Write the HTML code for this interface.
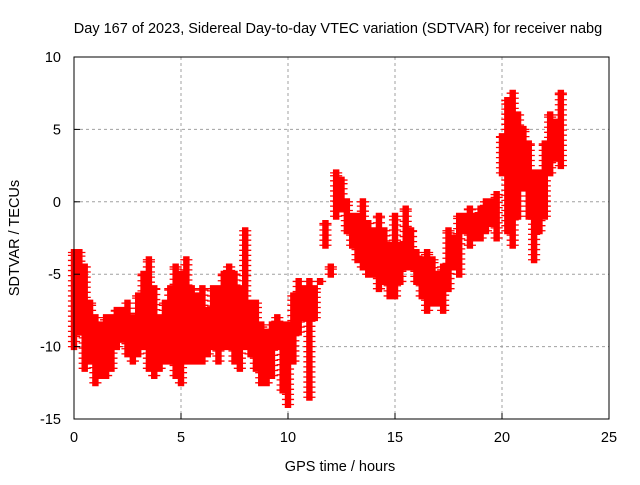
<!DOCTYPE html>
<html><head><meta charset="utf-8"><style>
html,body{margin:0;padding:0;background:#fff;}
svg text{font-family:"Liberation Sans",sans-serif;font-size:14.5px;fill:#000;}
</style></head><body>
<svg id="chart" width="640" height="480" xmlns="http://www.w3.org/2000/svg">
<text x="338" y="33" text-anchor="middle">Day 167 of 2023, Sidereal Day-to-day VTEC variation (SDTVAR) for receiver nabg</text>
<text x="340" y="471" text-anchor="middle">GPS time / hours</text>
<text transform="translate(19,238) rotate(-90)" text-anchor="middle">SDTVAR / TECUs</text>
<g id="grid"></g><g id="marks"></g><g id="axes"></g>
</svg>
<script>
const times=[0,0.25,0.5,0.75,1,1.25,1.5,1.75,2,2.25,2.5,2.75,3,3.25,3.5,3.75,4,4.25,4.5,4.75,5,5.25,5.5,5.75,6,6.25,6.5,6.75,7,7.25,7.5,7.75,8,8.25,8.5,8.75,9,9.25,9.5,9.75,10,10.25,10.5,10.75,11,11.25,11.5,11.75,12,12.25,12.5,12.75,13,13.25,13.5,13.75,14,14.25,14.5,14.75,15,15.25,15.5,15.75,16,16.25,16.5,16.75,17,17.25,17.5,17.75,18,18.25,18.5,18.75,19,19.25,19.5,19.75,20,20.25,20.5,20.75,21,21.25,21.5,21.75,22,22.25,22.5,22.75];
const lowVals=[-10,-9,-11.5,-11,-12.5,-12,-12,-11.5,-10,-9.5,-10.5,-11,-10.5,-10,-11.5,-12,-11.5,-11,-11,-12,-12.5,-11,-11,-11,-11,-10.5,-10,-11,-10,-10,-11,-11.5,-10,-10.5,-11.5,-12.5,-12.5,-12,-10,-13,-14,-11,-9,-8,-13.5,-8,-5.5,-3,-5,-1,-0.5,-2,-3,-4,-4.5,-5,-5,-6,-5.5,-6.5,-6.5,-5.5,-4.5,-4.5,-5.5,-6.5,-7.5,-7,-7,-7.5,-6,-4.5,-5,-2,-3,-2.5,-2.5,-2,-1.5,-2.5,2,-2,-3,-1,1,-1,-4,-2,-1,2,3,2.5];
const highVals=[-3.5,-3.5,-4.5,-7,-8,-8.5,-8,-8,-7.5,-7.5,-7,-8,-6.5,-5,-4,-6,-8,-7,-6,-4.5,-5,-4,-6,-6.5,-6,-7.5,-6,-6,-5,-4.5,-5,-6,-2,-7,-7,-8.5,-9,-8.5,-8,-8.5,-8.5,-6.5,-5.5,-6,-5.5,-6,-5.5,-1.5,-4.5,2,1.5,0,-1,-1,0,-1.5,-2,-1,-2,-3,-1,-3,-0.5,-2,-3.5,-4,-3.5,-4,-5,-4.5,-2,-2.5,-1,-1,-0.5,-1,-0.5,0,0,0.5,4.5,7,7.5,6,5,4,2,2,4,6,5.5,7.5];
const xTicks=[0,5,10,15,20,25];
const yTicks=[-15,-10,-5,0,5,10];
const L=74,R=609,T=57,B=419;
const xs=v=>L+(v-0)/25*(R-L);
const ys=v=>B-(v+15)/25*(B-T);
const NS="http://www.w3.org/2000/svg";
function mk(tag,attrs,parent){const e=document.createElementNS(NS,tag);for(const k in attrs)e.setAttribute(k,attrs[k]);parent.appendChild(e);return e;}
const grid=document.getElementById('grid'),marks=document.getElementById('marks'),axes=document.getElementById('axes');
xTicks.forEach(t=>{
 if(t>0&&t<25){const g=mk('line',{x1:xs(t),x2:xs(t),y1:T,y2:B,stroke:'#a0a0a0','stroke-dasharray':'3,3'},grid);
 
 }
 const tk=mk('line',{x1:xs(t),x2:xs(t),y1:B,y2:B-6,stroke:'#000'},axes);
 
 
 const lb=mk('text',{x:xs(t),y:B+23,'text-anchor':'middle'},axes);lb.textContent=t;
 
 
});
yTicks.forEach(t=>{
 if(t>-15&&t<10){const g=mk('line',{x1:L,x2:R,y1:ys(t),y2:ys(t),stroke:'#a0a0a0','stroke-dasharray':'3,3'},grid);
 
 }
 const tk=mk('line',{x1:L,x2:L+6,y1:ys(t),y2:ys(t),stroke:'#000'},axes);
 
 
 const lb=mk('text',{x:L-13,y:ys(t)+5,'text-anchor':'end'},axes);lb.textContent=t;
 
 
});
const frame=mk('rect',{x:L,y:T,width:R-L,height:B-T,fill:'none',stroke:'#000'},axes);


let d='';
function plus(x,y){d+=`M${x-3.5},${y}h7M${x},${y-3.5}v7`;}
times.forEach((t,i)=>{
 const lo=lowVals[i],hi=highVals[i];
 for(let k=-2;k<=2;k++){
  const x=xs(t+k*0.06);
  for(let v=lo;v<=hi+0.001;v+=0.35){plus(x,ys(v));}
  plus(x,ys(hi));
 }
});
const p=mk('path',{d:d,stroke:'#ff0000','stroke-width':1.3,fill:'none'},marks);


</script>
</body></html>
